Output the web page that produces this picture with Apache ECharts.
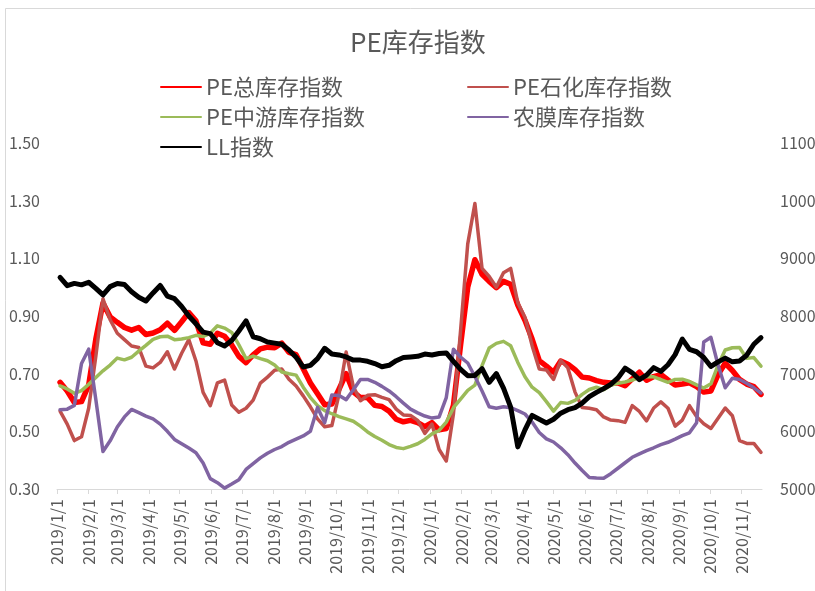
<!DOCTYPE html>
<html>
<head>
<meta charset="utf-8">
<title>PE库存指数</title>
<script src="https://cdn.jsdelivr.net/npm/echarts@6/dist/echarts.min.js"></script>
<style>
html, body { margin: 0; padding: 0; background: #fff; }
#chart { width: 815px; height: 591px; }
</style>
</head>
<body>
<div id="chart"></div>
<script>
// 周度日期（每周五），2019/1/4 起
var firstDate = Date.UTC(2019, 0, 4);
var weekCount = 99;
var dates = [];
for (var i = 0; i < weekCount; i++) {
  dates.push(firstDate + i * 7 * 86400000);
}

var leftTicks = [0.3, 0.5, 0.7, 0.9, 1.1, 1.3, 1.5];
var rightTicks = [5000, 6000, 7000, 8000, 9000, 10000, 11000];

// PE总库存指数
var peTotal = [0.67, 0.64, 0.60, 0.603, 0.66, 0.82, 0.945, 0.897, 0.878, 0.86,
  0.851, 0.86, 0.836, 0.841, 0.852, 0.875, 0.85, 0.88, 0.912, 0.883,
  0.807, 0.802, 0.84, 0.83, 0.80, 0.76, 0.738, 0.765, 0.786, 0.792,
  0.79, 0.806, 0.774, 0.766, 0.717, 0.668, 0.63, 0.592, 0.595, 0.646,
  0.70, 0.637, 0.617, 0.617, 0.59, 0.586, 0.57, 0.542, 0.533, 0.538,
  0.53, 0.516, 0.53, 0.505, 0.51, 0.59, 0.80, 1.00, 1.095, 1.045,
  1.02, 0.998, 1.02, 1.01, 0.938, 0.885, 0.82, 0.745, 0.726, 0.705,
  0.744, 0.733, 0.714, 0.688, 0.685, 0.676, 0.67, 0.668, 0.668, 0.658,
  0.682, 0.705, 0.677, 0.69, 0.697, 0.678, 0.661, 0.664, 0.668, 0.655,
  0.636, 0.64, 0.697, 0.736, 0.711, 0.68, 0.664, 0.655, 0.628];

// PE石化库存指数
var pePetro = [0.57, 0.525, 0.468, 0.481, 0.58, 0.76, 0.96, 0.887, 0.84, 0.818,
  0.796, 0.791, 0.726, 0.72, 0.739, 0.776, 0.716, 0.771, 0.818, 0.744,
  0.635, 0.589, 0.668, 0.678, 0.591, 0.566, 0.58, 0.608, 0.667, 0.688,
  0.712, 0.716, 0.681, 0.657, 0.623, 0.585, 0.543, 0.516, 0.52, 0.628,
  0.775, 0.655, 0.606, 0.625, 0.627, 0.618, 0.61, 0.577, 0.557, 0.555,
  0.538, 0.493, 0.525, 0.437, 0.397, 0.56, 0.85, 1.15, 1.29, 1.065,
  1.037, 1.0, 1.05, 1.065, 0.946, 0.896, 0.797, 0.716, 0.713, 0.68,
  0.746, 0.72, 0.636, 0.583, 0.58, 0.575, 0.55, 0.539, 0.537, 0.531,
  0.589, 0.569, 0.536, 0.581, 0.602, 0.58, 0.518, 0.539, 0.589, 0.551,
  0.526, 0.51, 0.545, 0.581, 0.554, 0.468, 0.458, 0.458, 0.427];

// PE中游库存指数
var peMid = [0.658, 0.647, 0.632, 0.641, 0.663, 0.687, 0.71, 0.73, 0.754, 0.748,
  0.757, 0.778, 0.798, 0.819, 0.828, 0.83, 0.818, 0.82, 0.825, 0.833,
  0.829, 0.84, 0.866, 0.858, 0.843, 0.80, 0.752, 0.761, 0.752, 0.745,
  0.73, 0.706, 0.70, 0.695, 0.653, 0.617, 0.589, 0.572, 0.561, 0.551,
  0.543, 0.535, 0.518, 0.498, 0.482, 0.469, 0.454, 0.444, 0.44, 0.448,
  0.457, 0.472, 0.491, 0.503, 0.532, 0.582, 0.612, 0.642, 0.66, 0.728,
  0.789, 0.805, 0.812, 0.797, 0.739, 0.689, 0.653, 0.634, 0.603, 0.57,
  0.60, 0.597, 0.607, 0.628, 0.645, 0.653, 0.644, 0.66, 0.667, 0.671,
  0.678, 0.686, 0.69, 0.689, 0.679, 0.67, 0.68, 0.681, 0.673, 0.661,
  0.65, 0.665, 0.73, 0.782, 0.79, 0.791, 0.753, 0.756, 0.726];

// 农膜库存指数
var filmStock = [0.575, 0.577, 0.59, 0.735, 0.785, 0.61, 0.43, 0.467, 0.515, 0.55,
  0.576, 0.565, 0.553, 0.543, 0.525, 0.50, 0.472, 0.457, 0.442, 0.426,
  0.39, 0.336, 0.322, 0.303, 0.317, 0.332, 0.368, 0.388, 0.408, 0.424,
  0.437, 0.447, 0.462, 0.473, 0.484, 0.50, 0.583, 0.53, 0.626, 0.624,
  0.61, 0.644, 0.68, 0.68, 0.67, 0.656, 0.64, 0.62, 0.598, 0.577,
  0.564, 0.553, 0.546, 0.55, 0.617, 0.785, 0.757, 0.737, 0.69, 0.64,
  0.585, 0.58, 0.585, 0.582, 0.572, 0.56, 0.532, 0.496, 0.474, 0.463,
  0.443, 0.419, 0.39, 0.364, 0.34, 0.338, 0.337, 0.353, 0.372, 0.391,
  0.41, 0.422, 0.433, 0.443, 0.454, 0.462, 0.473, 0.485, 0.495, 0.53,
  0.81, 0.826, 0.73, 0.651, 0.684, 0.68, 0.667, 0.651, 0.633];

// LL指数（右轴）
var llIndex = [8670, 8525, 8565, 8540, 8585, 8480, 8365, 8510, 8565, 8545,
  8420, 8325, 8260, 8400, 8530, 8345, 8300, 8165, 8000, 7865,
  7720, 7695, 7535, 7480, 7575, 7740, 7915, 7640, 7605, 7550,
  7530, 7510, 7410, 7285, 7115, 7145, 7260, 7440, 7340, 7325,
  7290, 7235, 7235, 7215, 7175, 7120, 7145, 7225, 7280, 7290,
  7300, 7340, 7325, 7350, 7360, 7215, 7075, 6965, 6970, 7085,
  6850, 7000, 6750, 6420, 5730, 6025, 6275, 6210, 6145, 6210,
  6315, 6375, 6410, 6490, 6600, 6675, 6740, 6815, 6925, 7095,
  7015, 6895, 6975, 7105, 7040, 7155, 7330, 7600, 7420, 7380,
  7280, 7125, 7205, 7270, 7205, 7220, 7320, 7510, 7625];

function pairs(values) {
  return dates.map(function (d, i) { return [d, values[i]]; });
}

var grey = '#595959';
var font = '"Noto Sans CJK SC", "Noto Sans", sans-serif';

function lineSeries(name, values, color, width, axis) {
  return {
    name: name,
    type: 'line',
    yAxisIndex: axis,
    data: pairs(values),
    symbol: 'none',
    lineStyle: { color: color, width: width, cap: 'round', join: 'round' },
    itemStyle: { color: color }
  };
}

function legendBox(names, left) {
  return {
    data: names,
    orient: 'vertical',
    left: left,
    top: 71,
    itemWidth: 40,
    itemHeight: 12,
    itemGap: 8,
    itemStyle: { opacity: 0 },   // 只保留线条，不画圆点
    textStyle: { fontSize: 22, lineHeight: 22, color: grey, fontFamily: font }
  };
}

var chart = echarts.init(document.getElementById('chart'));
chart.setOption({
  animation: false,
  useUTC: true,
  backgroundColor: '#fff',
  textStyle: { fontFamily: font },
  graphic: [{
    type: 'rect',
    silent: true,
    shape: { x: 5.5, y: 8.5, width: 900, height: 700 },
    style: { fill: 'none', stroke: '#d9d9d9', lineWidth: 1 }
  }],
  title: {
    text: 'PE库存指数',
    left: 345,
    top: 24,
    textStyle: { fontSize: 26, fontWeight: 'normal', color: grey, fontFamily: font }
  },
  legend: [
    legendBox(['PE总库存指数', 'PE中游库存指数', 'LL指数'], 155),
    legendBox(['PE石化库存指数', '农膜库存指数'], 462)
  ],
  grid: { left: 57, right: 53, top: 143, bottom: 102, outerBoundsMode: 'none' },
  xAxis: {
    type: 'time',
    min: Date.UTC(2019, 0, 1),
    max: Date.UTC(2020, 10, 21),
    minInterval: 30 * 86400000,
    maxInterval: 30 * 86400000,
    axisLine: { lineStyle: { color: '#d9d9d9', width: 1 } },
    axisTick: { show: true, length: 5, lineStyle: { color: '#d9d9d9' } },
    splitLine: { show: false },
    axisLabel: {
      rotate: 90,
      fontSize: 16,
      color: grey,
      margin: 10,
      showMaxLabel: false,
      formatter: function (v) {
        var d = new Date(v);
        return d.getUTCFullYear() + '/' + (d.getUTCMonth() + 1) + '/' + d.getUTCDate();
      }
    }
  },
  yAxis: [
    {
      type: 'value',
      min: 0.3,
      max: 1.5,
      axisLine: { show: false },
      axisTick: { show: false },
      splitLine: { show: false },
      axisLabel: {
        customValues: leftTicks,
        fontSize: 16,
        color: grey,
        margin: 17,
        formatter: function (v) { return v.toFixed(2); }
      }
    },
    {
      type: 'value',
      min: 5000,
      max: 11000,
      position: 'right',
      axisLine: { show: false },
      axisTick: { show: false },
      splitLine: { show: false },
      axisLabel: {
        customValues: rightTicks,
        fontSize: 16,
        color: grey,
        margin: 18,
        formatter: function (v) { return String(v); }
      }
    }
  ],
  series: [
    lineSeries('PE总库存指数', peTotal, '#FF0000', 5.5, 0),
    lineSeries('PE石化库存指数', pePetro, '#C0504D', 3.5, 0),
    lineSeries('PE中游库存指数', peMid, '#9BBB59', 3.5, 0),
    lineSeries('农膜库存指数', filmStock, '#8064A2', 3.5, 0),
    lineSeries('LL指数', llIndex, '#000000', 5, 1)
  ]
});
</script>
</body>
</html>
